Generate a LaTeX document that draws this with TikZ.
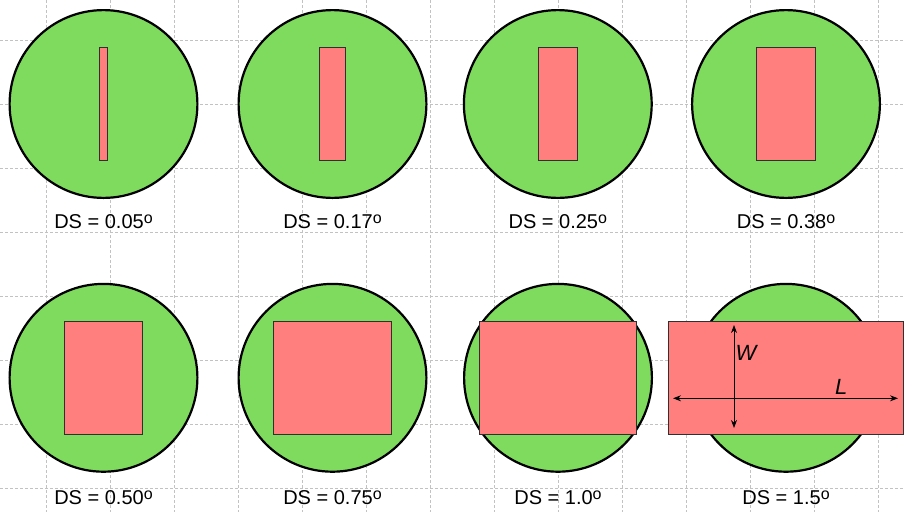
\documentclass[tikz,border=0pt]{standalone}
\usepackage{fontspec}
\setmainfont{Liberation Sans}
\usetikzlibrary{arrows.meta,positioning}
\definecolor{gridgray}{HTML}{C2C2C2}
\definecolor{disk}{HTML}{7FDB5E}
\definecolor{slit}{HTML}{FF7F7F}
\definecolor{slitedge}{HTML}{303030}
\newcommand{\degsup}{\raisebox{5pt}{\fontsize{16}{16}\selectfont o}}
\tikzset{
  gridline/.style={draw=gridgray,line width=0.8pt,dash pattern=on 3pt off 2pt},
  diskshape/.style={circle,draw=black,line width=2.2pt,fill=disk,minimum size=187.8pt,inner sep=0pt},
  slitbox/.style={rectangle,draw=slitedge,line width=0.9pt,fill=slit,minimum height=113.2pt,inner sep=0pt},
  dslabel/.style={font=\fontsize{20}{24}\selectfont,inner sep=0pt,text height=14pt,text depth=0pt},
  dimarrow/.style={{Stealth[length=8pt,width=6pt]}-{Stealth[length=8pt,width=6pt]},line width=0.9pt,draw=black},
  dimlabel/.style={font=\fontsize{22}{26}\selectfont\itshape,inner sep=0pt}
}

\begin{document}
\begin{tikzpicture}[x=1pt,y=-1pt]
  \useasboundingbox (0,0) rectangle (904,512);
  \foreach \gx in {46,110,...,878}
    \draw[gridline] (\gx,0) -- (\gx,512);
  \foreach \gy in {40,104,...,488}
    \draw[gridline] (0,\gy) -- (904,\gy);
  \foreach \i/\cx/\cy/\w/\gap/\ds in {1/103.5/104/7.2/15/0.05,2/332.5/104/26/15/0.17,3/557.8/104/38.5/15/0.25,4/786/104/59/15/0.38,5/103.5/377.8/77.5/17.8/0.50,6/332.5/377.8/117.5/17.8/0.75,7/558/377.8/156.5/17.8/1.0,8/786/377.8/235.5/17.8/1.5}{
    \node[diskshape] (disk\i) at (\cx,\cy) {};
    \node[slitbox,minimum width=\w pt] (slit\i) at (disk\i) {};
    \node[dslabel,below=\gap pt of disk\i] (ds\i) {DS = \ds\degsup};
  }
  \coordinate (wtop) at (734,325);
  \coordinate (wbot) at (734,428);
  \coordinate (lleft) at (673,398.3);
  \coordinate (lright) at (898,398.3);
  \draw[dimarrow] (wtop) -- (wbot);
  \draw[dimarrow] (lleft) -- (lright);
  \node[dimlabel,anchor=base west] (wlab) at (735.5,360.5) {W};
  \node[dimlabel,anchor=base west] (llab) at (835,394) {L};
\end{tikzpicture}
\end{document}
